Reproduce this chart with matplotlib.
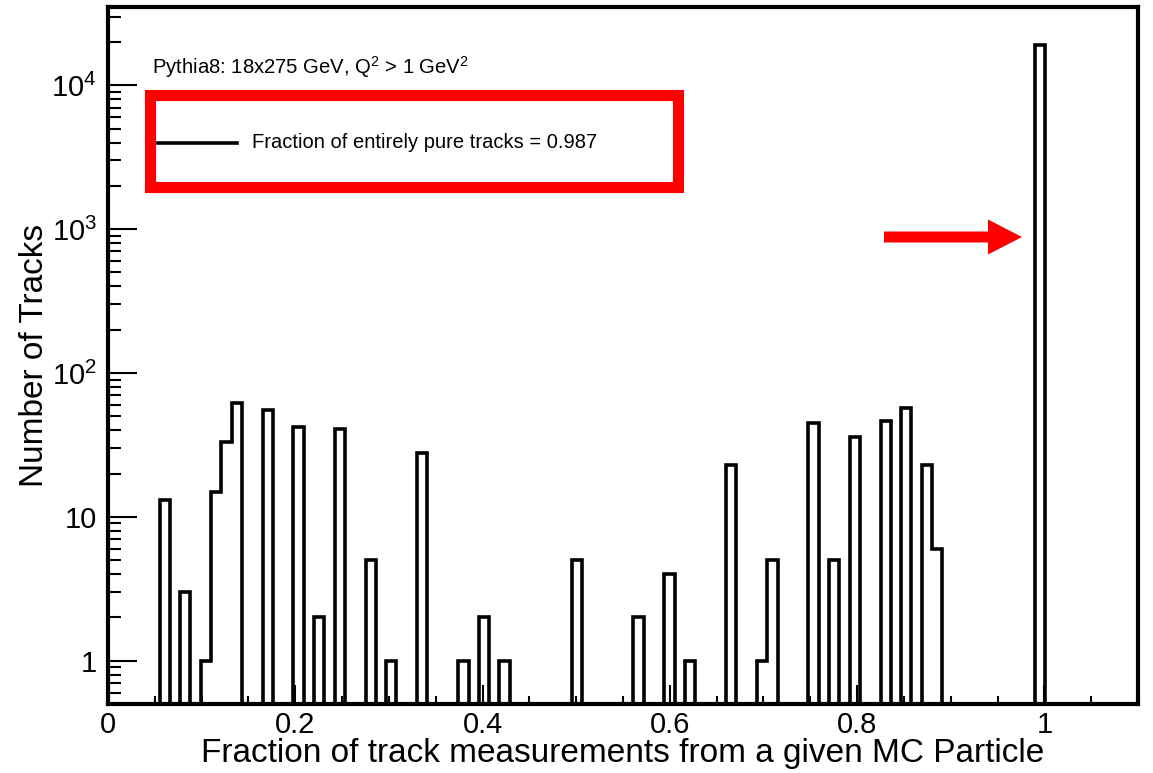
import numpy as np
import matplotlib.pyplot as plt
from matplotlib import ticker
from matplotlib.patches import Rectangle, FancyArrow
from matplotlib.lines import Line2D

plt.rcParams['font.family'] = ['Liberation Sans', 'DejaVu Sans']
plt.rcParams['mathtext.fontset'] = 'custom'
plt.rcParams['mathtext.rm'] = 'Liberation Sans'
plt.rcParams['mathtext.it'] = 'Liberation Sans:italic'

# Histogram: 100 bins between 0 and 1.1
n_bins = 100
x_range = (0.0, 1.1)
filled_bins = [5, 7, 9, 10, 11, 12, 15, 18, 20, 22, 25, 27, 30, 34, 36, 38, 45,
               51, 54, 56, 60, 63, 64, 68, 70, 72, 75, 77, 79, 80, 90]
bin_counts = [13, 3, 1, 15, 33, 62, 55, 42, 2, 41, 5, 1, 28, 1, 2, 1, 5,
              2, 4, 1, 23, 1, 5, 45, 5, 36, 46, 57, 23, 6, 19000]

x_ticks = [0, 0.2, 0.4, 0.6, 0.8, 1.0]
x_tick_labels = ['0', '0.2', '0.4', '0.6', '0.8', '1']
y_ticks = [1, 10, 100, 1000, 10000]
y_tick_labels = ['1', '10', '$10^{2}$', '$10^{3}$', '$10^{4}$']

legend_label = 'Fraction of entirely pure tracks = 0.987'
sample_label = 'Pythia8: 18x275 GeV, Q$^{2}$ > 1 GeV$^{2}$'

edges = np.linspace(x_range[0], x_range[1], n_bins + 1)
counts = np.zeros(n_bins)
counts[filled_bins] = bin_counts

W, H = 1153, 773
fig = plt.figure(figsize=(W / 100, H / 100), dpi=100)
ax = fig.add_axes([108 / W, 1 - 704 / H, (1138 - 108) / W, (704 - 7) / H])

ax.stairs(counts, edges, color='black', linewidth=2.6, baseline=None)

ax.set_yscale('log')
ax.set_xlim(*x_range)
ax.set_ylim(0.5, 3.5e4)

ax.set_xticks(x_ticks)
ax.set_xticklabels(x_tick_labels)
ax.xaxis.set_minor_locator(ticker.MultipleLocator(0.05))
ax.set_yticks(y_ticks)
ax.set_yticklabels(y_tick_labels)
ax.yaxis.set_minor_locator(ticker.LogLocator(base=10, subs=np.arange(2, 10)))
ax.yaxis.set_minor_formatter(ticker.NullFormatter())

ax.tick_params(axis='both', which='both', direction='in', width=1.5,
               labelsize=21, top=False, right=False)
ax.tick_params(axis='x', which='major', length=14, pad=5)
ax.tick_params(axis='x', which='minor', length=6)
ax.tick_params(axis='y', which='major', length=21, pad=8)
ax.tick_params(axis='y', which='minor', length=9.5)

for s in ax.spines.values():
    s.set_linewidth(3)

ax.set_xlabel('Fraction of track measurements from a given MC Particle',
              fontsize=24, labelpad=-1)
ax.set_ylabel('Number of Tracks', fontsize=24, labelpad=1)

# annotations drawn in figure inches (1 inch = 100 px)
tr = fig.dpi_scale_trans
fig.text(1.52, (H - 67) / 100, sample_label, transform=tr, fontsize=14.6,
         va='center', ha='left')

fig.add_artist(Rectangle((1.50, (H - 187) / 100), 5.28, 0.92, transform=tr,
                         fill=False, edgecolor='red', linewidth=8))
fig.add_artist(Line2D([1.58, 2.37], [(H - 143) / 100] * 2, transform=tr,
                      color='black', linewidth=2.6))
fig.text(2.52, (H - 143) / 100, legend_label, transform=tr, fontsize=14.5,
         va='center', ha='left')

fig.add_artist(FancyArrow(8.84, (H - 237) / 100, 1.38, 0, width=0.11,
                          head_width=0.35, head_length=0.34,
                          length_includes_head=True, transform=tr,
                          color='red', linewidth=0))

fig.savefig('out.png', dpi=100)
